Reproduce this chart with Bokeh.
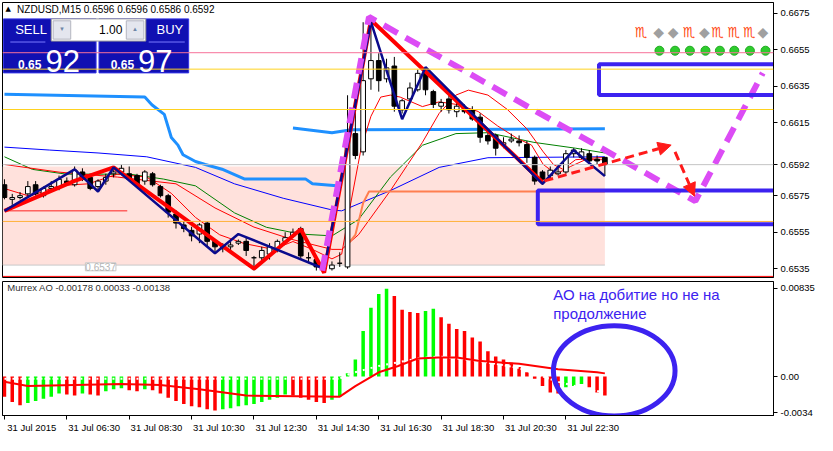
from bokeh.plotting import figure
from bokeh.layouts import column
from bokeh.models import (FixedTicker, Label, Span, Range1d,
                          NumeralTickFormatter, Arrow, NormalHead)
from bokeh.embed import file_html
from bokeh.resources import INLINE
from bokeh.core.properties import value

# ---------------- data (NZDUSD M15, 31 Jul 2015) ----------------
opens = [0.6581,0.6573,0.6574,0.6576,0.6581,0.6575,0.6579,0.6580,0.6583,0.6581,
         0.6588,0.6585,0.6580,0.6583,0.6587,0.6588,0.6587,0.6586,0.6583,0.6587,
         0.6580,0.6575,0.6565,0.6559,0.6556,0.6554,0.6560,0.6550,0.6547,0.6547,
         0.6549,0.6550,0.6541,0.6541,0.6543,0.6546,0.6550,0.6553,0.6557,0.6541,
         0.6540,0.6536,0.6535,0.6538,0.6536,0.6609,0.6599,0.6639,0.6649,0.6639,
         0.6646,0.6622,0.6628,0.6633,0.6642,0.6632,0.6624,0.6628,0.6621,0.6623,
         0.6622,0.6618,0.6608,0.6608,0.6603,0.6605,0.6605,0.6603,0.6596,0.6588,
         0.6586,0.6587,0.6588,0.6598,0.6596,0.6598,0.6595,0.6596]
highs = [0.6584,0.6576,0.6577,0.6583,0.6583,0.6580,0.6583,0.6586,0.6585,0.6591,
         0.6590,0.6587,0.6584,0.6587,0.6589,0.6592,0.6591,0.6587,0.6589,0.6588,
         0.6581,0.6576,0.6567,0.6561,0.6558,0.6560,0.6561,0.6551,0.6549,0.6550,
         0.6551,0.6552,0.6542,0.6547,0.6549,0.6551,0.6555,0.6557,0.6558,0.6544,
         0.6542,0.6538,0.6539,0.6544,0.6630,0.6630,0.6670,0.6673,0.6653,0.6650,
         0.6651,0.6628,0.6637,0.6644,0.6645,0.6633,0.6628,0.6630,0.6626,0.6625,
         0.6624,0.6620,0.6610,0.6609,0.6607,0.6609,0.6608,0.6605,0.6597,0.6589,
         0.6591,0.6592,0.6600,0.6601,0.6601,0.6600,0.6597,0.6596]
lows = [0.6573,0.6570,0.6573,0.6575,0.6575,0.6574,0.6577,0.6578,0.6581,0.6580,
        0.6583,0.6578,0.6578,0.6581,0.6585,0.6587,0.6583,0.6580,0.6581,0.6580,
        0.6574,0.6563,0.6557,0.6555,0.6550,0.6549,0.6547,0.6544,0.6544,0.6545,
        0.6548,0.6542,0.6534,0.6538,0.6540,0.6544,0.6549,0.6552,0.6540,0.6538,
        0.6534,0.6534,0.6534,0.6536,0.6535,0.6595,0.6597,0.6633,0.6632,0.6637,
        0.6621,0.6620,0.6626,0.6632,0.6630,0.6623,0.6621,0.6620,0.6618,0.6620,
        0.6616,0.6604,0.6603,0.6597,0.6601,0.6604,0.6602,0.6593,0.6581,0.6581,
        0.6584,0.6586,0.6587,0.6596,0.6595,0.6592,0.6592,0.6586]
closes = [0.6574,0.6574,0.6575,0.6580,0.6576,0.6579,0.6580,0.6584,0.6582,0.6589,
          0.6584,0.6579,0.6583,0.6585,0.6588,0.6590,0.6584,0.6581,0.6588,0.6581,
          0.6575,0.6566,0.6560,0.6557,0.6553,0.6559,0.6550,0.6547,0.6546,0.6548,
          0.6550,0.6545,0.6541,0.6545,0.6547,0.6550,0.6552,0.6555,0.6542,0.6541,
          0.6536,0.6535,0.6537,0.6538,0.6607,0.6597,0.6638,0.6649,0.6638,0.6645,
          0.6624,0.6627,0.6634,0.6642,0.6633,0.6625,0.6626,0.6622,0.6624,0.6621,
          0.6617,0.6607,0.6605,0.6601,0.6604,0.6606,0.6604,0.6596,0.6583,0.6584,
          0.6589,0.6588,0.6598,0.6600,0.6599,0.6594,0.6594,0.6592]

# moving averages (bar index, price)
blue_i = [0, 5.75, 12, 18.25, 24.5, 29.5, 35.75, 42, 43.25, 49.5, 55.75, 62, 77]
blue_p = [0.66016, 0.66000, 0.65984, 0.65963, 0.65905, 0.65815, 0.65736, 0.65672,
          0.65667, 0.65778, 0.65905, 0.65958, 0.65963]
green_i = [0, 3.6, 7.9, 16.1, 20.4, 24.5, 29.5, 33.6, 37.9, 42, 45.4, 49.5, 53.6,
           57.9, 62, 67.9, 73.25, 77]
green_p = [0.65963, 0.65894, 0.65868, 0.65868, 0.65841, 0.65804, 0.65656, 0.65577,
           0.65540, 0.65530, 0.65619, 0.65852, 0.66026, 0.66090, 0.66095, 0.66042,
           0.66010, 0.65984]
redf_i = [0, 3.25, 7, 10.75, 14.5, 18.25, 21.4, 24.5, 27.6, 30.75, 34.5, 37, 39.5,
          42, 43.25, 44.25, 45.75, 47, 48.25, 49.5, 50.75, 53.6, 55.75, 58.25, 60.75,
          63.25, 65.75, 67.6, 69.1, 70.75, 72.6, 74.5, 77]
redf_p = [0.65789, 0.65747, 0.65805, 0.65815, 0.65868, 0.65852, 0.65763, 0.65631,
          0.65536, 0.65488, 0.65456, 0.65499, 0.65456, 0.65404, 0.65430, 0.65673,
          0.66011, 0.66185, 0.66290, 0.66301, 0.66290, 0.66238, 0.66264, 0.66248,
          0.66211, 0.66132, 0.66064, 0.66027, 0.65921, 0.65868, 0.65910, 0.65947,
          0.65947]
reds_i = [0, 7, 14.5, 22, 27, 32, 37, 42, 43.25, 45.4, 49.5, 53.6, 55.75, 57.9, 59.5,
          62, 64.5, 67, 69.1, 70.4, 71.6, 73.25, 76.1, 77]
reds_p = [0.65921, 0.65879, 0.65852, 0.65815, 0.65683, 0.65578, 0.65509, 0.65456,
          0.65456, 0.65536, 0.65778, 0.66042, 0.66201, 0.66301, 0.66328, 0.66301,
          0.66222, 0.66116, 0.65990, 0.65921, 0.65895, 0.65947, 0.65958, 0.65958]
lblueA_i = [0, 18, 18.9, 20.5, 21.4, 22.25, 22.9, 24.5, 25.75, 27.9, 30.75, 38.6, 39.5, 42.6]
lblueA_p = [0.66306, 0.66290, 0.66248, 0.66195, 0.66069, 0.66027, 0.65974, 0.65937,
            0.65921, 0.65895, 0.65842, 0.65842, 0.65815, 0.65805]
lblueB_i = [37, 42, 44.5, 77]
lblueB_p = [0.66121, 0.66095, 0.66111, 0.66116]
coral_i = [44, 45, 46, 46.75, 77]
coral_p = [0.65482, 0.65535, 0.65710, 0.65773, 0.65773]

# zigzags
navy_i = [0, 9, 12, 14, 27, 30, 41, 47, 51, 54, 69, 73, 77]
navy_p = [0.65667, 0.65894, 0.65773, 0.65905, 0.65435, 0.65540, 0.65350, 0.66702,
          0.66169, 0.66454, 0.65815, 0.65999, 0.65857]
redzz_i = [0, 9, 14, 32, 38, 41, 47, 69]
redzz_p = [0.65667, 0.65831, 0.65905, 0.65350, 0.65566, 0.65328, 0.66712, 0.65824]

# drawn objects
violet_i = [40.75, 46.75, 88.6, 97.25]
violet_p = [0.65339, 0.66729, 0.65720, 0.66422]
rect_l = [76.25, 68.4]
rect_r = [99.1, 99.1]
rect_t = [0.66470, 0.65778]
rect_b = [0.66301, 0.65594]
pink_zone = (-0.25, 77.0, 0.65910, 0.65370)
hlines = [(0.66533, "#f7729a"), (0.66443, "#ffd21f"), (0.66222, "#ffd21f"),
          (0.65609, "#ffb13a"), (0.6592, "#c4c4c4"), (0.65308, "#ff0000")]
sym_x = [81.6, 83.9, 85.75, 87.75, 89.75, 91.4, 93.5, 95.5, 97.25]
sym_t = ["♏", "◆", "◆", "♏", "◆", "♏", "♏", "♏", "◆"]
dot_x = [84.0, 86.0, 87.9, 89.9, 91.75, 93.6, 95.6, 97.6]

# Murrex AO (lower window)
ao = [-0.0019,-0.0024,-0.0027,-0.0025,-0.0023,-0.0021,-0.0019,-0.0016,-0.0017,-0.0018,
      -0.0016,-0.0017,-0.0018,-0.0014,-0.0012,-0.0011,-0.0013,-0.0014,-0.0012,-0.0013,
      -0.0016,-0.0020,-0.0023,-0.0026,-0.0028,-0.0029,-0.0031,-0.0032,-0.0031,-0.0030,
      -0.0028,-0.0027,-0.0026,-0.0024,-0.0022,-0.0020,-0.0017,-0.0018,-0.0020,-0.0022,
      -0.0024,-0.0025,-0.0022,-0.0019,0.0003,0.0016,0.0043,0.0065,0.0078,0.0083,
      0.0076,0.0063,0.0061,0.0060,0.0062,0.0064,0.0056,0.0050,0.0045,0.0043,
      0.0037,0.0033,0.0024,0.0019,0.0016,0.0013,0.0009,0.0004,-0.0002,-0.0009,
      -0.0015,-0.0016,-0.0010,-0.0009,-0.0007,-0.0010,-0.0015,-0.0018]
sig_i = [0, 3, 15, 20, 25, 31, 43, 44, 45, 48, 50.5, 53, 55.6, 58, 60.75, 66, 71, 76, 77]
sig_v = [-0.0005,-0.0009,-0.0007,-0.0008,-0.0012,-0.0018,-0.0019,-0.0014,-0.0009,0.0004,
         0.0010,0.0017,0.0018,0.0018,0.0015,0.0012,0.0007,0.0004,0.0003]
wd_i = [0, 43, 44.4, 48, 53, 55.6, 60.75, 66, 71, 76, 77]
wd_v = [-0.0002,-0.0002,0.0003,0.0010,0.0017,0.0019,0.0015,0.0008,-0.0005,-0.0014,-0.0014]

tick_pos = [0, 8, 16, 24, 32, 40, 48, 56, 64, 72]
tick_labels = ["31 Jul 2015", "31 Jul 06:30", "31 Jul 08:30", "31 Jul 10:30",
               "31 Jul 12:30", "31 Jul 14:30", "31 Jul 16:30", "31 Jul 18:30",
               "31 Jul 20:30", "31 Jul 22:30"]
bid_price = 0.6592
price_ticks = [0.6535, 0.6555, 0.6575, bid_price, 0.6615, 0.6635, 0.6655, 0.6675]
ao_ticks = [-0.0034, 0.0, 0.00835]

# ---------------- styling helpers ----------------
FONT = "Liberation Sans"
BLUE = "#3c22f0"
VIOLET = "#dc4cf5"
W = 817
RB = 44
TOP_H = 279
LBL_SHIFT = 3.5   # MT4 writes time labels to the right of their tick

# reference-pixel -> data helpers for the UI chrome (panel, header)
def X(px):
    return (px - 4) / 8.0

def Y(py):
    return 0.6675 - (py - 13) / 18929.0

def Yb(py):
    return (391.5 - py) / 11140.0

xr = Range1d(-0.25, 98.625)
yr_top = Range1d(0.65302, 0.66808)

def style_axis(ax):
    ax.axis_line_color = "black"
    ax.major_tick_out = 4
    ax.major_tick_in = 0
    ax.minor_tick_out = 0
    ax.minor_tick_in = 0
    ax.major_label_text_font = FONT
    ax.major_label_text_font_size = "9.5px"
    ax.major_label_text_color = "black"
    ax.major_label_standoff = 3

# ---------------- top (price) window ----------------
top = figure(width=W, height=TOP_H, x_range=xr, y_range=yr_top,
             output_backend="svg", toolbar_location=None, y_axis_location="right",
             x_axis_location=None, min_border_left=2, min_border_right=RB,
             min_border_top=2, min_border_bottom=2,
             background_fill_color="white", border_fill_color="white")
top.outline_line_color = "black"
top.grid.visible = False
top.yaxis.ticker = FixedTicker(ticks=price_ticks)
top.yaxis.formatter = NumeralTickFormatter(format="0.0000")
style_axis(top.yaxis[0])

top.quad(left=[pink_zone[0]], right=[pink_zone[1]], top=[pink_zone[2]],
         bottom=[pink_zone[3]], fill_color="#ffe1dc", line_color=None)
top.segment(x0=[pink_zone[0]], x1=[pink_zone[1]], y0=[pink_zone[3]], y1=[pink_zone[3]],
            line_color="#c8c8c8", line_width=1)
for lv, col in hlines:
    top.add_layout(Span(location=lv, dimension="width", line_color=col, line_width=1))
top.segment(x0=[0], x1=[15.75], y0=[0.65667], y1=[0.65667], line_color="#ff2020", line_width=1)

top.line(lblueA_i, lblueA_p, line_color="#1e90ff", line_width=3)
top.line(lblueB_i, lblueB_p, line_color="#1e90ff", line_width=3)
top.line(blue_i, blue_p, line_color="#0000ff", line_width=1)
top.line(green_i, green_p, line_color="#008000", line_width=1)
top.line(reds_i, reds_p, line_color="#ff0000", line_width=1)
top.line(redf_i, redf_p, line_color="#ff0000", line_width=1)
top.line(coral_i, coral_p, line_color="#ff7f50", line_width=2)

idx = list(range(len(opens)))
top.segment(x0=idx, x1=idx, y0=lows, y1=highs, line_color="black", line_width=1)
bull = [i for i in idx if closes[i] >= opens[i]]
bear = [i for i in idx if closes[i] < opens[i]]
top.vbar(x=bull, width=0.6, top=[closes[i] for i in bull], bottom=[opens[i] for i in bull],
         fill_color="white", line_color="black", line_width=1)
top.vbar(x=bear, width=0.6, top=[opens[i] for i in bear], bottom=[closes[i] for i in bear],
         fill_color="black", line_color="black", line_width=1)

top.line(redzz_i, redzz_p, line_color="#ff0000", line_width=4)
top.line(navy_i, navy_p, line_color="#0a0a8c", line_width=2.5)

top.line(violet_i, violet_p, line_color=VIOLET, line_width=6, line_dash="16 9")
top.add_layout(Arrow(end=NormalHead(size=13, fill_color="#ff1a1a", line_color="#ff1a1a"),
                     x_start=69.25, y_start=0.65831, x_end=85.5, y_end=0.66027,
                     line_color="#ff1a1a", line_width=3, line_dash="9 5"))
top.add_layout(Arrow(end=NormalHead(size=13, fill_color="#ff1a1a", line_color="#ff1a1a"),
                     x_start=86.0, y_start=0.65990, x_end=88.5, y_end=0.65747,
                     line_color="#ff1a1a", line_width=3, line_dash="9 5"))
top.quad(left=rect_l, right=rect_r, top=rect_t, bottom=rect_b, fill_alpha=0,
         line_color=BLUE, line_width=4)

sym_col = ["#ff4a14" if s == "♏" else "#a0a0a0" for s in sym_t]
top.text(x=sym_x, y=[0.66644] * len(sym_x), text=sym_t, text_color=sym_col,
         text_font=value("DejaVu Sans"), text_font_size="14px",
         text_align="center", text_baseline="middle")
top.scatter(x=dot_x, y=[0.66544] * len(dot_x), size=9, fill_color="#2ecc2e",
            line_color="#1faa1f")

# header + one-click trading panel
top.add_layout(Label(x=X(5), y=Y(9), text="▲", text_font="DejaVu Sans",
                     text_font_size="7px", text_baseline="middle", text_color="black"))
top.add_layout(Label(x=X(17), y=Y(9), text="NZDUSD,M15  0.6596 0.6596 0.6586 0.6592",
                     text_font=FONT, text_font_size="10px", text_baseline="middle",
                     text_color="black"))
PANEL = "#1010b2"
top.quad(left=[X(3), X(101)], right=[X(98), X(193)], top=[Y(19), Y(19)],
         bottom=[Y(75), Y(75)], fill_color=PANEL, line_color="#3434e6")
top.segment(x0=[X(10), X(152)], x1=[X(46), X(189)], y0=[Y(43), Y(43)], y1=[Y(43), Y(43)],
            line_color="#7a7aff", line_width=1)
top.quad(left=[X(52)], right=[X(149)], top=[Y(19)], bottom=[Y(42)],
         fill_color="white", line_color="#9a9a9a")
top.quad(left=[X(54), X(129)], right=[X(72), X(147)], top=[Y(21), Y(21)],
         bottom=[Y(40), Y(40)], fill_color="#e4e6ee", line_color="#b4b6c0")
for tx, tt, tc, fs, al in [
        (15, "SELL", "white", "13px", "left"),
        (160, "BUY", "white", "13px", "left"),
        (125, "1.00", "black", "12px", "right"),
        (63, "▼", "#6f86a8", "6px", "center"),
        (138, "▲", "#6f86a8", "6px", "center")]:
    top.add_layout(Label(x=X(tx), y=Y(30), text=tt, text_color=tc, text_font=FONT,
                         text_font_size=fs, text_align=al, text_baseline="middle"))
for tx, tt, fs, fst, yy in [(18, "0.65", "12px", "bold", 71), (46, "92", "31px", "normal", 74),
                            (113, "0.65", "12px", "bold", 71), (141, "97", "31px", "normal", 74)]:
    top.add_layout(Label(x=X(tx), y=Y(yy), text=tt, text_color="white", text_font=FONT,
                         text_font_size=fs, text_font_style=fst, text_baseline="bottom"))
top.add_layout(Label(x=X(87), y=Y(276), text="0.6537", text_color="#b4b4b4", text_font=FONT,
                     text_font_size="10px", text_baseline="middle",
                     border_line_color="#c8c8c8", background_fill_color="white"))

# ---------------- lower (Murrex AO) window ----------------
bot = figure(width=W, height=156, x_range=xr, y_range=Range1d(-0.00368, 0.00898),
             output_backend="svg", toolbar_location=None, y_axis_location="right",
             min_border_left=2, min_border_right=RB, min_border_top=2, min_border_bottom=20,
             background_fill_color="white", border_fill_color="white")
bot.outline_line_color = "black"
bot.grid.visible = False
bot.yaxis.ticker = FixedTicker(ticks=ao_ticks)
bot.yaxis.major_label_overrides = {-0.0034: "-0.0034", 0.0: "0.00", 0.00835: "0.00835"}
style_axis(bot.yaxis[0])
style_axis(bot.xaxis[0])
bot.xaxis.ticker = FixedTicker(ticks=[t + LBL_SHIFT for t in tick_pos], minor_ticks=tick_pos)
bot.xaxis.major_label_overrides = {t + LBL_SHIFT: lab for t, lab in zip(tick_pos, tick_labels)}
bot.xaxis.major_tick_out = 0
bot.xaxis.minor_tick_out = 4
bot.xaxis.minor_tick_line_color = "black"
bot.xaxis.major_label_standoff = 2

ao_col = ["#ff0000"] + ["#00ff00" if ao[i] > ao[i - 1] else "#ff0000" for i in range(1, len(ao))]
bot.vbar(x=list(range(len(ao))), top=ao, bottom=0, width=0.45, fill_color=ao_col,
         line_color=None)
bot.line(wd_i, wd_v, line_color="white", line_width=2, line_dash="2 2")
bot.line(sig_i, sig_v, line_color="#ff0000", line_width=2)
bot.ellipse(x=[78.2], y=[0.00054], width=[15.6], height=[0.00853], fill_alpha=0,
            line_color=BLUE, line_width=5)

bot.add_layout(Label(x=X(7), y=Yb(298), text="Murrex AO -0.00178 0.00033 -0.00138",
                     text_font=FONT, text_font_size="9.5px", text_color="#303030",
                     text_baseline="middle"))
bot.add_layout(Label(x=X(567), y=Yb(296), text="АО на добитие но  не на",
                     text_font=FONT, text_font_size="15px", text_color=BLUE,
                     text_baseline="top"))
bot.add_layout(Label(x=X(567), y=Yb(316), text="продолжение",
                     text_font=FONT, text_font_size="15px", text_color=BLUE,
                     text_baseline="top"))

p = column(top, bot, spacing=0)
open("out.html", "w").write(file_html(p, INLINE))
